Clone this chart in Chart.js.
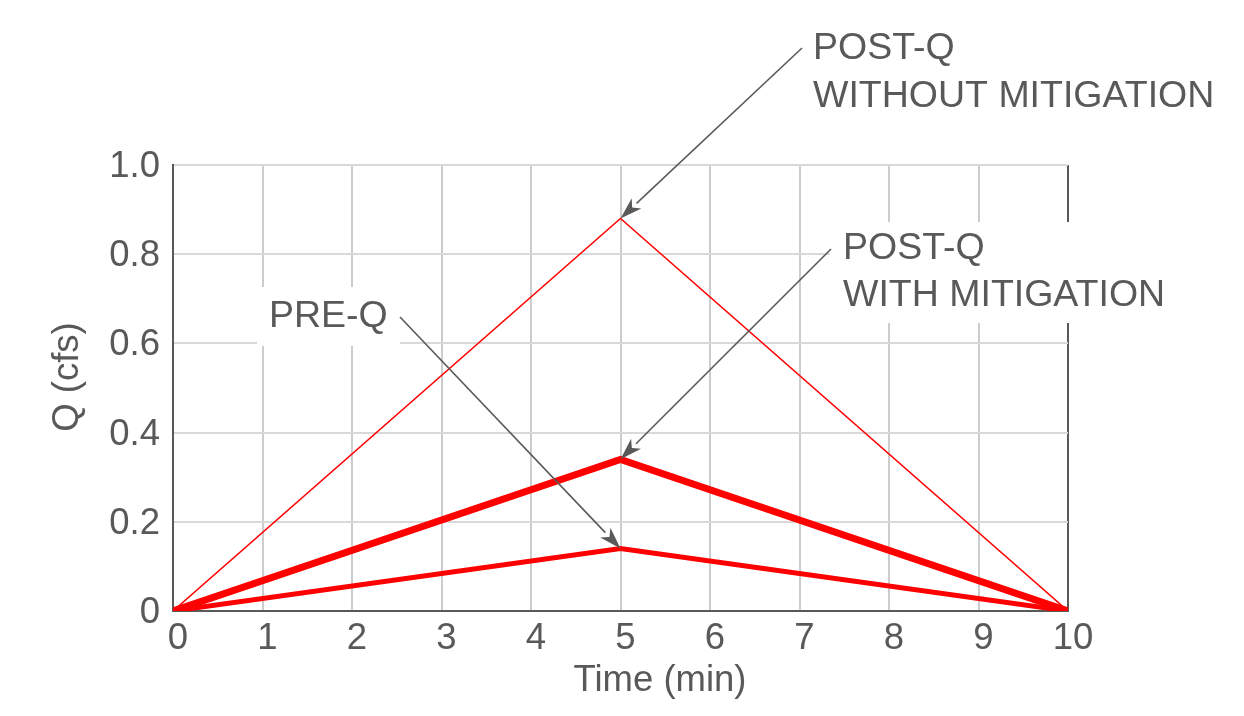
<!DOCTYPE html>
<html>
<head>
<meta charset="utf-8">
<script src="https://cdn.jsdelivr.net/npm/chart.js@4/dist/chart.umd.min.js"></script>
<style>
  html, body { margin: 0; padding: 0; background: #fff; }
  #wrap { width: 1244px; height: 716px; position: relative; }
</style>
</head>
<body>
<div id="wrap"><canvas id="myChart" width="1244" height="716"></canvas></div>
<script>
// time points (min)
const times = [0, 5, 10];
// discharge series (cfs)
const postQWithout = [0, 0.88, 0];
const postQWith = [0, 0.34, 0];
const preQ = [0, 0.14, 0];

const xTicks = [0, 1, 2, 3, 4, 5, 6, 7, 8, 9, 10];
const yTicks = [0, 0.2, 0.4, 0.6, 0.8, 1.0];

const textColor = '#595959';
const fontFamily = '"Liberation Sans", Arial, sans-serif';

// callouts: label lines, text origin, white box, arrow start, target (dataset index, point index)
const callouts = [
    { lines: ['POST-Q', 'WITHOUT MITIGATION'], x: 813, y: 49, lh: 48, box: null, from: [802, 48], ds: 0, pt: 1 },
    { lines: ['POST-Q', 'WITH MITIGATION'], x: 843, y: 249, lh: 47, box: [830, 222, 345, 101], from: [831, 249], ds: 1, pt: 1 },
    { lines: ['PRE-Q'], x: 269, y: 317, lh: 47, box: [257, 287, 143, 59], from: [400, 317], ds: 2, pt: 1 }
];

function toXY(xs, ys) {
    return xs.map(function (x, i) { return { x: x, y: ys[i] }; });
}

const calloutPlugin = {
    id: 'callouts',
    beforeDatasetsDraw: function (chart) {
        const ctx = chart.ctx;
        ctx.save();
        ctx.fillStyle = '#ffffff';
        callouts.forEach(function (c) {
            if (c.box) ctx.fillRect(c.box[0], c.box[1], c.box[2], c.box[3]);
        });
        ctx.restore();
    },
    afterDatasetsDraw: function (chart) {
        const ctx = chart.ctx;
        const xs = chart.scales.x, ys = chart.scales.y;
        ctx.save();
        callouts.forEach(function (c) {
            const ds = chart.data.datasets[c.ds].data[c.pt];
            const tx = xs.getPixelForValue(ds.x);
            const ty = ys.getPixelForValue(ds.y);
            const fx = c.from[0], fy = c.from[1];
            const ang = Math.atan2(ty - fy, tx - fx);
            const headLen = 22, headW = 7;
            const bx = tx - headLen * Math.cos(ang), by = ty - headLen * Math.sin(ang);
            ctx.strokeStyle = textColor;
            ctx.fillStyle = textColor;
            ctx.lineWidth = 1.6;
            ctx.beginPath();
            ctx.moveTo(fx, fy);
            ctx.lineTo(bx, by);
            ctx.stroke();
            ctx.beginPath();
            ctx.moveTo(tx, ty);
            ctx.lineTo(bx + headW * Math.sin(ang), by - headW * Math.cos(ang));
            ctx.lineTo(bx + 6 * Math.cos(ang), by + 6 * Math.sin(ang));
            ctx.lineTo(bx - headW * Math.sin(ang), by + headW * Math.cos(ang));
            ctx.closePath();
            ctx.fill();

            ctx.font = '37.5px ' + fontFamily;
            ctx.textAlign = 'left';
            ctx.textBaseline = 'middle';
            c.lines.forEach(function (t, i) {
                ctx.fillText(t, c.x, c.y + i * c.lh);
            });
        });
        ctx.restore();
    },
    afterDraw: function (chart) {
        // axis titles
        const ctx = chart.ctx;
        ctx.save();
        ctx.fillStyle = textColor;
        ctx.font = '36.5px ' + fontFamily;
        ctx.textAlign = 'center';
        ctx.textBaseline = 'middle';
        ctx.fillText('Time (min)', 660, 681);
        ctx.translate(68, 377);
        ctx.rotate(-Math.PI / 2);
        ctx.fillText('Q (cfs)', 0, 0);
        ctx.restore();
    }
};

const canvas = document.getElementById('myChart').getContext('2d');

const myChart = new Chart(canvas, {
    type: 'line',
    data: {
        datasets: [{
            label: 'POST-Q WITHOUT MITIGATION',
            data: toXY(times, postQWithout),
            borderColor: '#ff0000',
            borderWidth: 1.5,
            borderCapStyle: 'round',
            pointRadius: 0
        }, {
            label: 'POST-Q WITH MITIGATION',
            data: toXY(times, postQWith),
            borderColor: '#ff0000',
            borderWidth: 7,
            borderCapStyle: 'round',
            pointRadius: 0
        }, {
            label: 'PRE-Q',
            data: toXY(times, preQ),
            borderColor: '#ff0000',
            borderWidth: 5,
            borderCapStyle: 'round',
            pointRadius: 0
        }]
    },
    options: {
        responsive: false,
        animation: false,
        layout: { padding: { top: 165, right: 176, bottom: 0, left: 0 } },
        plugins: {
            legend: { display: false },
            tooltip: { enabled: false }
        },
        scales: {
            x: {
                type: 'linear',
                min: 0,
                max: 10,
                afterBuildTicks: function (scale) {
                    scale.ticks = xTicks.map(function (v) { return { value: v }; });
                },
                afterFit: function (scale) { scale.height = 105; },
                grid: {
                    drawTicks: false,
                    lineWidth: 2,
                    color: function (c) { return c.tick && c.tick.value === 10 ? textColor : '#cccccc'; }
                },
                border: { color: textColor, width: 2 },
                ticks: {
                    color: textColor,
                    padding: 6,
                    labelOffset: 5,
                    font: { size: 36.5, family: fontFamily },
                    callback: function (v) { return String(v); }
                }
            },
            y: {
                min: 0,
                max: 1,
                afterBuildTicks: function (scale) {
                    scale.ticks = yTicks.map(function (v) { return { value: v }; });
                },
                afterFit: function (scale) { scale.width = 173; },
                grid: {
                    drawTicks: false,
                    lineWidth: 2,
                    color: '#d9d9d9'
                },
                border: { color: textColor, width: 2 },
                ticks: {
                    color: textColor,
                    padding: 13,
                    labelOffset: 2,
                    font: { size: 36.5, family: fontFamily },
                    callback: function (v) { return v === 0 ? '0' : v.toFixed(1); }
                }
            }
        }
    },
    plugins: [calloutPlugin]
});
</script>
</body>
</html>
